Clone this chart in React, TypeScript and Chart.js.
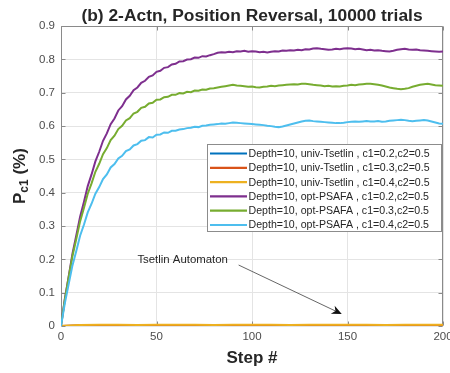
import React, { useEffect, useRef } from 'react';
import { Chart, registerables } from 'chart.js';

Chart.register(...registerables);

const FONT = '"Liberation Sans", Arial, Helvetica, sans-serif';

const titleText = '(b) 2-Actn, Position Reversal, 10000 trials';
const xTitleText = 'Step #';
const yTitleMain = 'P';
const yTitleSub = 'c1';
const yTitleTail = ' (%)';

const xTicks = [0, 50, 100, 150, 200];
const xTickLabels = ['0', '50', '100', '150', '200'];
const yTicks = [0, 0.1, 0.2, 0.3, 0.4, 0.5, 0.6, 0.7, 0.8, 0.9];
const yTickLabels = ['0', '0.1', '0.2', '0.3', '0.4', '0.5', '0.6', '0.7', '0.8', '0.9'];

const seriesLabels = [
  'Depth=10, univ-Tsetlin , c1=0.2,c2=0.5',
  'Depth=10, univ-Tsetlin , c1=0.3,c2=0.5',
  'Depth=10, univ-Tsetlin , c1=0.4,c2=0.5',
  'Depth=10, opt-PSAFA , c1=0.2,c2=0.5',
  'Depth=10, opt-PSAFA , c1=0.3,c2=0.5',
  'Depth=10, opt-PSAFA , c1=0.4,c2=0.5',
];
const seriesColors = ['#0072BD', '#D95319', '#EDB120', '#7E2F8E', '#77AC30', '#4DBEEE'];

// sample grids (x categories)
const optSteps = Array.from({ length: 101 }, (_, i) => i * 2);
const tsetlinSteps = Array.from({ length: 21 }, (_, i) => i * 10);

// univ-Tsetlin series (values at tsetlinSteps)
const univC1_02 = [0, 0.001, 0.001, 0.002, 0.001, 0.002, 0.002, 0.001, 0.002, 0.002, 0.001, 0.002, 0.002, 0.002, 0.001, 0.002, 0.002, 0.001, 0.002, 0.002, 0.002];
const univC1_03 = [0, 0.002, 0.003, 0.002, 0.003, 0.003, 0.002, 0.003, 0.003, 0.003, 0.002, 0.003, 0.003, 0.002, 0.003, 0.003, 0.003, 0.002, 0.003, 0.003, 0.003];
const univC1_04 = [0, 0.003, 0.004, 0.004, 0.003, 0.004, 0.004, 0.004, 0.003, 0.004, 0.004, 0.004, 0.003, 0.004, 0.004, 0.004, 0.004, 0.003, 0.004, 0.004, 0.004];

// opt-PSAFA series (values at optSteps)
const optC1_02 = [
  0, 0.081, 0.148, 0.217, 0.272, 0.328, 0.372, 0.420, 0.455, 0.494,
  0.523, 0.556, 0.578, 0.606, 0.623, 0.647, 0.660, 0.680, 0.691, 0.708,
  0.716, 0.730, 0.736, 0.748, 0.752, 0.763, 0.766, 0.775, 0.777, 0.785,
  0.787, 0.794, 0.795, 0.800, 0.801, 0.806, 0.805, 0.810, 0.809, 0.813,
  0.816, 0.820, 0.822, 0.821, 0.823, 0.822, 0.825, 0.824, 0.826, 0.823,
  0.825, 0.824, 0.822, 0.823, 0.821, 0.823, 0.825, 0.824, 0.827, 0.826,
  0.828, 0.827, 0.829, 0.828, 0.831, 0.830, 0.833, 0.834, 0.832, 0.831,
  0.829, 0.830, 0.832, 0.831, 0.833, 0.834, 0.833, 0.831, 0.832, 0.830,
  0.828, 0.829, 0.827, 0.828, 0.826, 0.825, 0.824, 0.826, 0.829, 0.831,
  0.832, 0.830, 0.829, 0.830, 0.828, 0.827, 0.826, 0.825, 0.824, 0.823,
  0.824,
];
const optC1_03 = [
  0, 0.079, 0.146, 0.210, 0.261, 0.314, 0.354, 0.397, 0.428, 0.463,
  0.487, 0.516, 0.534, 0.558, 0.571, 0.591, 0.601, 0.617, 0.624, 0.638,
  0.643, 0.655, 0.658, 0.668, 0.670, 0.679, 0.680, 0.687, 0.688, 0.694,
  0.694, 0.699, 0.698, 0.703, 0.702, 0.707, 0.706, 0.710, 0.709, 0.713,
  0.714, 0.716, 0.718, 0.720, 0.722, 0.724, 0.722, 0.721, 0.720, 0.718,
  0.719, 0.717, 0.716, 0.718, 0.719, 0.721, 0.720, 0.722, 0.723, 0.724,
  0.725, 0.726, 0.725, 0.727, 0.727, 0.726, 0.724, 0.723, 0.722, 0.720,
  0.721, 0.719, 0.720, 0.719, 0.721, 0.722, 0.724, 0.723, 0.725, 0.726,
  0.727, 0.727, 0.726, 0.724, 0.722, 0.719, 0.716, 0.714, 0.712, 0.711,
  0.712, 0.714, 0.718, 0.721, 0.724, 0.726, 0.727, 0.725, 0.723, 0.722,
  0.721,
];
const optC1_04 = [
  0, 0.068, 0.125, 0.182, 0.225, 0.271, 0.304, 0.341, 0.367, 0.397,
  0.417, 0.441, 0.455, 0.476, 0.486, 0.503, 0.511, 0.525, 0.530, 0.542,
  0.546, 0.556, 0.558, 0.567, 0.566, 0.574, 0.575, 0.581, 0.580, 0.586,
  0.586, 0.590, 0.591, 0.594, 0.595, 0.598, 0.597, 0.601, 0.602, 0.604,
  0.605, 0.606, 0.608, 0.607, 0.609, 0.611, 0.610, 0.609, 0.608, 0.607,
  0.606, 0.605, 0.604, 0.603, 0.601, 0.600, 0.598, 0.597, 0.599, 0.602,
  0.605, 0.608, 0.611, 0.614, 0.616, 0.617, 0.615, 0.614, 0.613, 0.612,
  0.611, 0.610, 0.609, 0.609, 0.610, 0.612, 0.613, 0.614, 0.613, 0.614,
  0.615, 0.614, 0.614, 0.615, 0.613, 0.614, 0.616, 0.617, 0.618, 0.619,
  0.618, 0.616, 0.615, 0.616, 0.617, 0.618, 0.617, 0.614, 0.611, 0.608,
  0.607,
];

const annotationText = 'Tsetlin Automaton';
const annotationAt = { step: 40, value: 0.198 };
const arrowFrom = { step: 93, value: 0.183 };
const arrowTo = { step: 147, value: 0.036 };

const seriesSteps = [tsetlinSteps, tsetlinSteps, tsetlinSteps, optSteps, optSteps, optSteps];
const seriesValues = [univC1_02, univC1_03, univC1_04, optC1_02, optC1_03, optC1_04];

const AXIS_COLOR = '#8a8a8a';
const GRID_COLOR = '#e4e4e4';
const TEXT_COLOR = '#262626';
const TICK_COLOR = '#4d4d4d';

const decorPlugin = {
  id: 'matlabDecor',
  beforeDatasetsDraw(chart: any) {
    const { ctx, chartArea: a, scales } = chart;
    const L = Math.round(a.left) + 0.5;
    const R = Math.round(a.right) - 0.5;
    const T = Math.round(a.top) + 0.5;
    const B = Math.round(a.bottom) - 0.5;
    ctx.save();
    ctx.strokeStyle = AXIS_COLOR;
    ctx.lineWidth = 1;
    ctx.beginPath();
    ctx.rect(L, T, R - L, B - T);
    const tl = 4;
    xTicks.forEach((v) => {
      const px = Math.round(scales.x.getPixelForValue(v)) + 0.5;
      ctx.moveTo(px, B); ctx.lineTo(px, B - tl);
      ctx.moveTo(px, T); ctx.lineTo(px, T + tl);
    });
    yTicks.forEach((v) => {
      const py = Math.round(scales.y.getPixelForValue(v)) + 0.5;
      ctx.moveTo(L, py); ctx.lineTo(L + tl, py);
      ctx.moveTo(R, py); ctx.lineTo(R - tl, py);
    });
    ctx.stroke();
    ctx.restore();
  },
  afterDraw(chart: any) {
    const { ctx, chartArea: a, scales } = chart;
    ctx.save();

    // Legend box
    ctx.font = `10.6px ${FONT}`;
    const maxW = Math.max(...seriesLabels.map((s) => ctx.measureText(s).width));
    const boxW = Math.round(41 + maxW + 12);
    const rowH = 14.3;
    const boxH = 87;
    const bx = Math.round(a.right - 2 - boxW) + 0.5;
    const by = Math.round(a.top + 118) + 0.5;
    ctx.fillStyle = '#ffffff';
    ctx.fillRect(bx, by, boxW, boxH);
    ctx.strokeStyle = '#8c8c8c';
    ctx.lineWidth = 1;
    ctx.strokeRect(bx, by, boxW, boxH);
    seriesLabels.forEach((label, i) => {
      const cy = by + 9 + i * rowH;
      ctx.strokeStyle = seriesColors[i];
      ctx.lineWidth = 2.2;
      ctx.beginPath();
      ctx.moveTo(bx + 2.5, cy);
      ctx.lineTo(bx + 39.5, cy);
      ctx.stroke();
      ctx.fillStyle = TEXT_COLOR;
      ctx.textBaseline = 'middle';
      ctx.textAlign = 'left';
      ctx.fillText(label, bx + 41, cy + 0.5);
    });

    // Annotation text + arrow
    const tx = scales.x.getPixelForValue(annotationAt.step);
    const ty = scales.y.getPixelForValue(annotationAt.value);
    ctx.font = `11.4px ${FONT}`;
    ctx.fillStyle = TEXT_COLOR;
    ctx.textBaseline = 'middle';
    ctx.textAlign = 'left';
    ctx.fillText(annotationText, tx, ty);

    const x1 = scales.x.getPixelForValue(arrowFrom.step);
    const y1 = scales.y.getPixelForValue(arrowFrom.value);
    const x2 = scales.x.getPixelForValue(arrowTo.step);
    const y2 = scales.y.getPixelForValue(arrowTo.value);
    const ang = Math.atan2(y2 - y1, x2 - x1);
    const hl = 10, hw = 4.5, notch = 7;
    ctx.strokeStyle = '#555555';
    ctx.lineWidth = 0.9;
    ctx.beginPath();
    ctx.moveTo(x1, y1);
    ctx.lineTo(x2 - Math.cos(ang) * notch, y2 - Math.sin(ang) * notch);
    ctx.stroke();
    const bxp = x2 - Math.cos(ang) * hl;
    const byp = y2 - Math.sin(ang) * hl;
    ctx.fillStyle = '#111111';
    ctx.beginPath();
    ctx.moveTo(x2, y2);
    ctx.lineTo(bxp + Math.sin(ang) * hw, byp - Math.cos(ang) * hw);
    ctx.lineTo(x2 - Math.cos(ang) * notch, y2 - Math.sin(ang) * notch);
    ctx.lineTo(bxp - Math.sin(ang) * hw, byp + Math.cos(ang) * hw);
    ctx.closePath();
    ctx.fill();

    // Y axis title with subscript
    const cy = (a.top + a.bottom) / 2;
    const baseX = a.left - 36;
    ctx.translate(baseX, cy);
    ctx.rotate(-Math.PI / 2);
    ctx.fillStyle = TEXT_COLOR;
    ctx.textBaseline = 'alphabetic';
    ctx.textAlign = 'left';
    const mainFont = `bold 17px ${FONT}`;
    const subFont = `bold 12px ${FONT}`;
    ctx.font = mainFont;
    const wP = ctx.measureText(yTitleMain).width;
    const wTail = ctx.measureText(yTitleTail).width;
    ctx.font = subFont;
    const wSub = ctx.measureText(yTitleSub).width;
    const total = wP + wSub + wTail;
    let x = -total / 2;
    ctx.font = mainFont;
    ctx.fillText(yTitleMain, x, 0);
    x += wP;
    ctx.font = subFont;
    ctx.fillText(yTitleSub, x, 3);
    x += wSub;
    ctx.font = mainFont;
    ctx.fillText(yTitleTail, x, 0);

    ctx.restore();
  },
};

export default function App() {
  const ref = useRef<HTMLCanvasElement>(null);
  useEffect(() => {
    const canvas = ref.current;
    if (!canvas) return;
    const datasets = seriesLabels.map((label, i) => ({
      label,
      data: seriesSteps[i].map((s, j) => ({ x: s, y: seriesValues[i][j] })),
      borderColor: seriesColors[i],
      backgroundColor: seriesColors[i],
      borderWidth: 2,
      pointRadius: 0,
      tension: 0,
      fill: false,
      order: seriesLabels.length - i,
    }));
    const chart = new Chart(canvas, {
      type: 'line',
      data: { datasets },
      options: {
        animation: false,
        responsive: false,
        devicePixelRatio: 1,
        parsing: false,
        normalized: true,
        layout: { padding: { left: 0, right: 7, top: 0, bottom: 0 } },
        plugins: {
          legend: { display: false },
          tooltip: { enabled: false },
          title: {
            display: true,
            text: titleText,
            fullSize: false,
            color: TEXT_COLOR,
            font: { family: FONT, size: 17.4, weight: 'bold' },
            padding: { top: 5.3, bottom: 0 },
          },
        },
        scales: {
          x: {
            type: 'linear',
            min: 0,
            max: 200,
            afterBuildTicks: (s: any) => { s.ticks = xTicks.map((v) => ({ value: v })); },
            afterFit: (s: any) => { s.height = 47; s.paddingRight = 0; s.paddingLeft = 0; },
            ticks: {
              callback: (_v: any, i: number) => xTickLabels[i],
              color: TICK_COLOR,
              font: { family: FONT, size: 11.5 },
              padding: 4,
              maxRotation: 0,
              autoSkip: false,
            },
            grid: { color: GRID_COLOR, drawTicks: false, lineWidth: 1 },
            border: { display: false },
            title: {
              display: true,
              text: xTitleText,
              color: TEXT_COLOR,
              font: { family: FONT, size: 17, weight: 'bold' },
              padding: { top: 0, bottom: 4 },
            },
          },
          y: {
            type: 'linear',
            min: 0,
            max: 0.9,
            afterBuildTicks: (s: any) => { s.ticks = yTicks.map((v) => ({ value: v })); },
            afterFit: (s: any) => { s.width = 61; },
            ticks: {
              callback: (_v: any, i: number) => yTickLabels[i],
              color: TICK_COLOR,
              font: { family: FONT, size: 11.5 },
              padding: 6,
              autoSkip: false,
            },
            grid: { color: GRID_COLOR, drawTicks: false, lineWidth: 1 },
            border: { display: false },
          },
        },
      },
      plugins: [decorPlugin],
    } as any);
    return () => chart.destroy();
  }, []);
  return (
    <div style={{ position: 'fixed', left: 0, top: 0, width: 450, height: 373, background: '#fff' }}>
      <canvas ref={ref} width={450} height={373} style={{ display: 'block', width: 450, height: 373 }} />
    </div>
  );
}
